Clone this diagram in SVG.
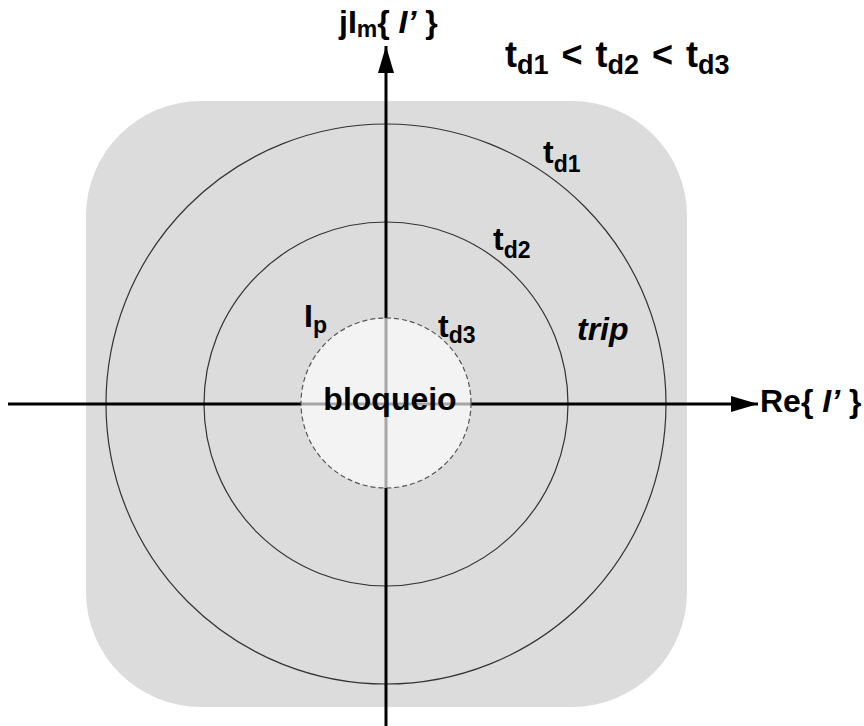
<svg xmlns="http://www.w3.org/2000/svg" width="864" height="726" viewBox="0 0 864 726">
<style>
.lbl{font-family:"Liberation Sans",Arial,sans-serif;font-weight:bold;font-size:32px;fill:#000}
.sub{font-size:23px}
.big{font-size:36px}
.bigsub{font-size:27px}
.ring{fill:none;stroke:#333;stroke-width:1.2}
.ax{stroke:#000;stroke-width:3;fill:none}
</style>
<defs>
<marker id="ah" markerWidth="27" markerHeight="16" refX="27" refY="8" orient="auto" markerUnits="userSpaceOnUse">
<path d="M0,0 L27,8 L0,16 Z" fill="#000"/>
</marker>
</defs>
<rect x="0" y="0" width="864" height="726" fill="#fff"/>
<g id="zone">
<rect x="86" y="101" width="601" height="606" rx="115" ry="115" fill="#dcdcdc"/>
</g>
<g id="rings">
<circle class="ring" cx="386" cy="404" r="280"/>
<circle class="ring" cx="386" cy="404" r="182"/>
</g>
<g id="connectors">
<line class="ax" x1="386" y1="726" x2="386" y2="46" marker-end="url(#ah)"/>
<line class="ax" x1="8" y1="404" x2="758" y2="404" marker-end="url(#ah)"/>
</g>
<g id="bloqueio">
<circle cx="386" cy="403" r="85" fill="#ffffff" fill-opacity="0.65" stroke="#555" stroke-width="1.2" stroke-dasharray="5,3"/>
<text class="lbl" x="390" y="410" text-anchor="middle">bloqueio</text>
</g>
<g id="labels">
<text class="lbl" x="339" y="33">jI<tspan class="sub" dy="4">m</tspan><tspan dy="-4">{ </tspan><tspan font-style="italic">I’</tspan> }</text>
<text class="lbl big" x="505" y="67" word-spacing="3">t<tspan class="bigsub" dy="7">d1</tspan><tspan dy="-7"> &lt; t</tspan><tspan class="bigsub" dy="7">d2</tspan><tspan dy="-7"> &lt; t</tspan><tspan class="bigsub" dy="7">d3</tspan></text>
<text class="lbl" x="760" y="412">Re{ <tspan font-style="italic">I’</tspan> }</text>
<text class="lbl" x="543" y="163">t<tspan class="sub" dy="9">d1</tspan></text>
<text class="lbl" x="493" y="250">t<tspan class="sub" dy="8">d2</tspan></text>
<text class="lbl" x="438" y="337">t<tspan class="sub" dy="6">d3</tspan></text>
<text class="lbl" x="304" y="327">I<tspan class="sub" dy="6">p</tspan></text>
<text class="lbl" x="577" y="340" font-style="italic" font-size="34">trip</text>
</g>
</svg>
